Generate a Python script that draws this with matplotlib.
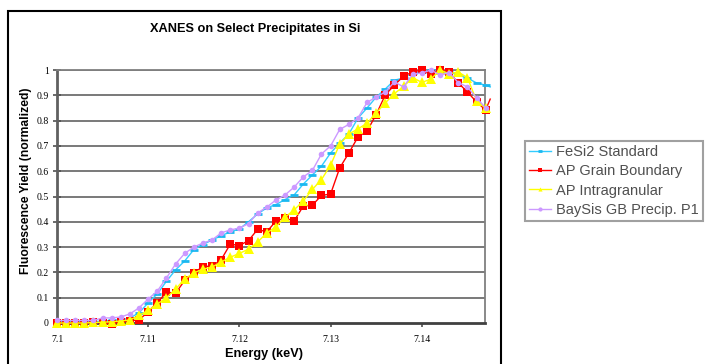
import numpy as np
import matplotlib.pyplot as plt
from matplotlib.patches import Rectangle

# energy grid (keV), one reading every 0.001 keV
energy = [7.100 + 0.001 * i for i in range(48)]
energy_ext = energy + [7.1475]

# FeSi2 standard
fesi2 = [0.005, 0.005, 0.005, 0.005, 0.005, 0.008, 0.010, 0.012, 0.020, 0.040,
         0.080, 0.115, 0.165, 0.210, 0.245, 0.290, 0.310, 0.328, 0.345, 0.360,
         0.372, 0.400, 0.431, 0.455, 0.468, 0.488, 0.506, 0.549, 0.585, 0.620,
         0.672, 0.711, 0.747, 0.810, 0.850, 0.893, 0.925, 0.960, 0.968, 0.988,
         0.992, 1.000, 0.992, 0.992, 0.980, 0.968, 0.949, 0.940, 0.933]

# AP grain boundary
ap_gb = [0.000, 0.000, 0.000, 0.000, 0.003, 0.000, -0.004, 0.005, 0.008, 0.012,
         0.045, 0.080, 0.122, 0.118, 0.168, 0.198, 0.223, 0.225, 0.250, 0.312,
         0.306, 0.326, 0.370, 0.360, 0.403, 0.415, 0.403, 0.462, 0.466, 0.504,
         0.510, 0.613, 0.672, 0.735, 0.759, 0.824, 0.902, 0.940, 0.976, 0.992,
         1.000, 0.984, 1.000, 0.992, 0.949, 0.913, 0.874, 0.842, 0.885]

# AP intragranular
ap_intra = [0.000, 0.000, 0.000, 0.000, 0.002, 0.003, 0.005, 0.008, 0.012, 0.030,
            0.050, 0.075, 0.100, 0.134, 0.174, 0.198, 0.213, 0.221, 0.241, 0.260,
            0.275, 0.292, 0.320, 0.356, 0.380, 0.418, 0.447, 0.482, 0.528, 0.567,
            0.624, 0.707, 0.747, 0.767, 0.790, 0.830, 0.870, 0.907, 0.935, 0.970,
            0.951, 0.964, 1.000, 0.985, 0.992, 0.970, 0.879, 0.848]

# BaySiS GB precip. P1
baysis = [0.010, 0.010, 0.010, 0.010, 0.010, 0.020, 0.020, 0.024, 0.036, 0.060,
          0.095, 0.126, 0.178, 0.233, 0.275, 0.300, 0.316, 0.328, 0.356, 0.368,
          0.375, 0.393, 0.435, 0.458, 0.486, 0.506, 0.537, 0.577, 0.603, 0.668,
          0.700, 0.765, 0.785, 0.810, 0.872, 0.893, 0.913, 0.953, 0.933, 0.984,
          0.988, 1.000, 0.980, 0.990, 0.950, 0.933, 0.890, 0.850]

y_ticks = [0, 0.1, 0.2, 0.3, 0.4, 0.5, 0.6, 0.7, 0.8, 0.9, 1]
x_ticks = [7.1, 7.11, 7.12, 7.13, 7.14]

W, H = 707, 364
fig = plt.figure(figsize=(W / 100, H / 100), dpi=100)

# outer chart frame
fig.patches.append(Rectangle((8 / W, -0.05), 493 / W, 1.05 - 11 / H,
                             transform=fig.transFigure, fill=False,
                             edgecolor='black', linewidth=1.5))

ax = fig.add_axes([57 / W, 1 - 323 / H, 428 / W, 253 / H])

for yv in y_ticks[1:]:
    ax.axhline(yv, color='#6e6e6e', linewidth=1.3, zorder=1)

l1, = ax.plot(energy_ext, fesi2, color='#33ccff', linewidth=1.0,
              marker='_', markersize=6, markeredgewidth=2,
              markeredgecolor='#1ab8f0', markevery=slice(0, 48),
              clip_on=False, zorder=3)
l2, = ax.plot(energy_ext, ap_gb, color='#ff0000', linewidth=1.0,
              marker='s', markersize=6, markeredgewidth=0,
              markevery=slice(0, 48), clip_on=False, zorder=4)
l3, = ax.plot(energy, ap_intra, color='#ffff00', linewidth=1.0,
              marker='^', markersize=7.5, markeredgewidth=0,
              clip_on=False, zorder=5)
l4, = ax.plot(energy, baysis, color='#cc99ff', linewidth=1.0,
              marker='o', markersize=4, markeredgewidth=0,
              clip_on=False, zorder=6)

ax.set_xlim(7.1, 7.1 + 428 / 91.2 * 0.01)
ax.set_ylim(0, 1)
ax.set_xticks(x_ticks)
ax.set_xticklabels(['7.1', '7.11', '7.12', '7.13', '7.14'])
ax.set_yticks(y_ticks)
ax.set_yticklabels(['0', '0.1', '0.2', '0.3', '0.4', '0.5', '0.6', '0.7',
                    '0.8', '0.9', '1'])

for lab in ax.get_xticklabels() + ax.get_yticklabels():
    lab.set_fontfamily('Liberation Serif')
    lab.set_fontsize(7)
ax.tick_params(axis='y', direction='inout', length=6, width=1.2,
               color='#505050', pad=3)
ax.tick_params(axis='x', direction='out', length=3, width=1.2,
               color='#505050', pad=6)

for s in ['top', 'right']:
    ax.spines[s].set_color('#808080')
    ax.spines[s].set_linewidth(1.3)
ax.spines['left'].set_color('#606060')
ax.spines['left'].set_linewidth(2)
ax.spines['bottom'].set_color('#404040')
ax.spines['bottom'].set_linewidth(2)

fig.text(255 / W, 1 - 29 / H, 'XANES on Select Precipitates in Si',
         ha='center', va='center', fontsize=9.2, fontweight='bold',
         family='Liberation Sans')
fig.text(264 / W, 1 - 354 / H, 'Energy (keV)', ha='center', va='center',
         fontsize=9.2, fontweight='bold', family='Liberation Sans')
fig.text(26 / W, 1 - 181 / H, 'Fluorescence Yield (normalized)',
         ha='center', va='center', rotation=90, fontsize=8.7,
         fontweight='bold', family='Liberation Sans')

leg = fig.legend([l1, l2, l3, l4],
                 ['FeSi2 Standard', 'AP Grain Boundary', 'AP Intragranular',
                  'BaySis GB Precip. P1'],
                 loc='upper left', bbox_to_anchor=(525 / W, 1 - 141 / H),
                 fancybox=False, edgecolor='#a0a0a0', framealpha=1,
                 borderaxespad=0, handlelength=1.5, handletextpad=0.3,
                 borderpad=0.3, labelspacing=0.35,
                 prop={'family': 'Liberation Sans', 'size': 10.5})
leg.get_frame().set_linewidth(1.5)
for h in leg.legend_handles:
    h.set_markersize(3)
for t in leg.get_texts():
    t.set_color('#505050')

fig.savefig('out.png', dpi=100)
